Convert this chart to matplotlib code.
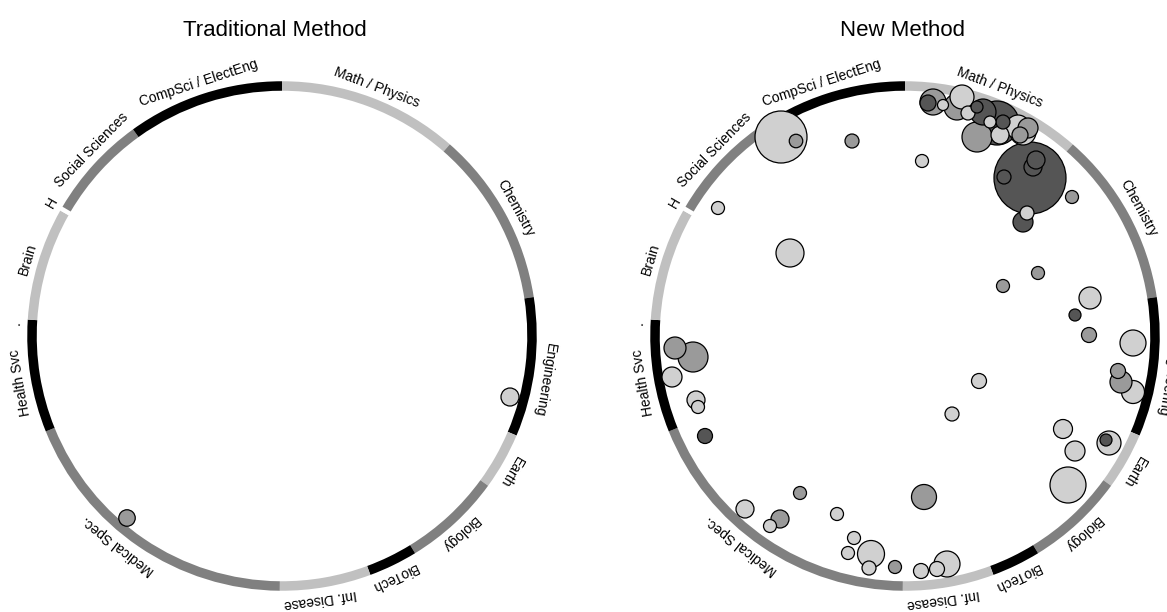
import math
import matplotlib
matplotlib.use("Agg")
import matplotlib.pyplot as plt
from matplotlib.patches import Wedge, Circle

plt.rcParams['font.family'] = ['Liberation Sans', 'DejaVu Sans']

# Disciplines around the ring, clockwise from the top (widths in degrees)
disciplines = ["Math / Physics", "Chemistry", "Engineering", "Earth", "Biology",
               "BioTech", "Inf. Disease", "Medical Spec.", "Health Svc", ".",
               "Brain", "H", "Social Sciences", "CompSci / ElectEng"]
arc_widths = [41.2, 40.0, 31.8, 13.0, 22.5, 11.2, 20.8, 67.5, 25.7, 0.0,
              25.8, 1.0, 23.7, 35.8]
arc_colors = ["#c0c0c0", "#808080", "#000000", "#c0c0c0", "#808080",
              "#000000", "#c0c0c0", "#808080", "#000000", "#ffffff",
              "#c0c0c0", "#ffffff", "#808080", "#000000"]
# Angular position of each discipline label (degrees clockwise from top)
label_angles = [20.8, 61.2, 99.5, 120.5, 138.0, 155.0, 171.7, 217.9, 260.0,
                272.8, 286.8, 300.0, 314.4, 341.8]

shade_colors = {0: "#d0d0d0", 1: "#9a9a9a", 2: "#555555"}

# Traditional method: x, y (unit circle), radius, shade level
trad_x = [0.912, -0.620]
trad_y = [-0.244, -0.728]
trad_r = [0.036, 0.033]
trad_shade = [0, 1]

# New method
new_x = [-0.496, -0.436, -0.212, -0.748, -0.460,
         -0.920, -0.848, -0.932, -0.836, -0.828, -0.800,
         -0.420, -0.640, -0.500, -0.540, -0.272, -0.204, -0.228, -0.136, -0.144, -0.040,
         0.736, 0.912, 0.852, 0.864, 0.912, 0.296, 0.188, 0.632, 0.680, 0.816, 0.804,
         0.652, 0.076, 0.064, 0.128, 0.168,
         0.068, 0.668, 0.532, 0.392, 0.740, 0.680,
         0.500, 0.396, 0.512, 0.524, 0.472, 0.488,
         0.368, 0.288, 0.112, 0.092, 0.152, 0.228, 0.208, 0.288, 0.252, 0.312, 0.340, 0.392, 0.380,
         0.452, 0.460, 0.492, 0.472]
new_y = [0.796, 0.780, 0.780, 0.512, 0.332,
         -0.048, -0.084, -0.164, -0.256, -0.284, -0.400,
         -0.628, -0.692, -0.732, -0.760, -0.712, -0.808, -0.868, -0.872, -0.928, -0.924,
         0.004, -0.028, -0.140, -0.184, -0.224, -0.180, -0.312, -0.372, -0.460, -0.428, -0.416,
         -0.596, -0.644, -0.940, -0.932, -0.912,
         0.700, 0.556, 0.252, 0.200, 0.152, 0.084,
         0.632, 0.636, 0.676, 0.704, 0.456, 0.492,
         0.852, 0.796, 0.936, 0.932, 0.924, 0.956, 0.916, 0.916, 0.892, 0.896, 0.856, 0.856, 0.804,
         0.836, 0.804, 0.832, 0.816]
new_r = [0.104, 0.027, 0.028, 0.026, 0.056,
         0.044, 0.060, 0.040, 0.036, 0.026, 0.030,
         0.026, 0.036, 0.036, 0.026, 0.026, 0.026, 0.026, 0.054, 0.028, 0.026,
         0.030, 0.052, 0.030, 0.044, 0.046, 0.030, 0.028, 0.038, 0.040, 0.048, 0.024,
         0.072, 0.050, 0.030, 0.030, 0.052,
         0.026, 0.026, 0.026, 0.026, 0.044, 0.024,
         0.144, 0.028, 0.036, 0.036, 0.040, 0.028,
         0.088, 0.060, 0.052, 0.032, 0.022, 0.048, 0.052, 0.024, 0.028, 0.052, 0.024, 0.028, 0.036,
         0.048, 0.032, 0.040, 0.052]
new_shade = [0, 1, 1, 0, 0,
             1, 1, 0, 0, 0, 2,
             1, 0, 1, 0, 0, 0, 0, 0, 0, 1,
             1, 0, 1, 1, 0, 0, 0, 0, 0, 0, 2,
             0, 1, 0, 0, 0,
             0, 1, 1, 1, 0, 2,
             2, 2, 2, 2, 2, 0,
             2, 1, 1, 2, 0, 0, 1, 2, 0, 2, 0, 2, 0,
             0, 1, 1, 0]

FIG_W, FIG_H = 1167, 612
RING_MID = 250.0      # ring radius in pixels (one data unit)
RING_W = 0.038
LABEL_R = 1.064


def setup_axes(fig, left_px, width_px, cx_px, cy_px):
    ax = fig.add_axes([left_px / FIG_W, 0, width_px / FIG_W, 1])
    x0 = (left_px - cx_px) / RING_MID
    x1 = (left_px + width_px - cx_px) / RING_MID
    y0 = -(FIG_H - cy_px) / RING_MID
    y1 = cy_px / RING_MID
    ax.set_xlim(x0, x1)
    ax.set_ylim(y0, y1)
    ax.set_axis_off()
    return ax


def draw_ring(ax):
    start = 0.0
    for name, w, col, lab in zip(disciplines, arc_widths, arc_colors, label_angles):
        end = start + w
        if w > 0:
            ax.add_patch(Wedge((0, 0), 1 + RING_W / 2, 90 - end, 90 - start,
                               width=RING_W, facecolor=col, edgecolor='none',
                               zorder=1))
        a = math.radians(lab)
        ax.text(LABEL_R * math.sin(a), LABEL_R * math.cos(a), name,
                rotation=-lab, rotation_mode='anchor', ha='center', va='center',
                fontsize=10, color='black', clip_on=False, zorder=3)
        start = end


def draw_bubbles(ax, xs, ys, rs, shades):
    order = sorted(range(len(xs)), key=lambda i: -rs[i])
    for z, i in enumerate(order):
        ax.add_patch(Circle((xs[i], ys[i]), rs[i], facecolor=shade_colors[shades[i]],
                            edgecolor='black', linewidth=0.9, zorder=2 + z * 0.001))


fig = plt.figure(figsize=(FIG_W / 100, FIG_H / 100), dpi=100)
fig.patch.set_facecolor('white')

ax1 = setup_axes(fig, 0, 583.5, 282, 336)
draw_ring(ax1)
draw_bubbles(ax1, trad_x, trad_y, trad_r, trad_shade)

ax2 = setup_axes(fig, 583.5, 583.5, 905, 336)
draw_ring(ax2)
draw_bubbles(ax2, new_x, new_y, new_r, new_shade)

fig.text(275 / FIG_W, 1 - 30 / FIG_H, "Traditional Method", ha='center', va='center',
         fontsize=16)
fig.text(902 / FIG_W, 1 - 30 / FIG_H, "New Method", ha='center', va='center',
         fontsize=16)

fig.savefig("out.png", dpi=100, facecolor='white')
